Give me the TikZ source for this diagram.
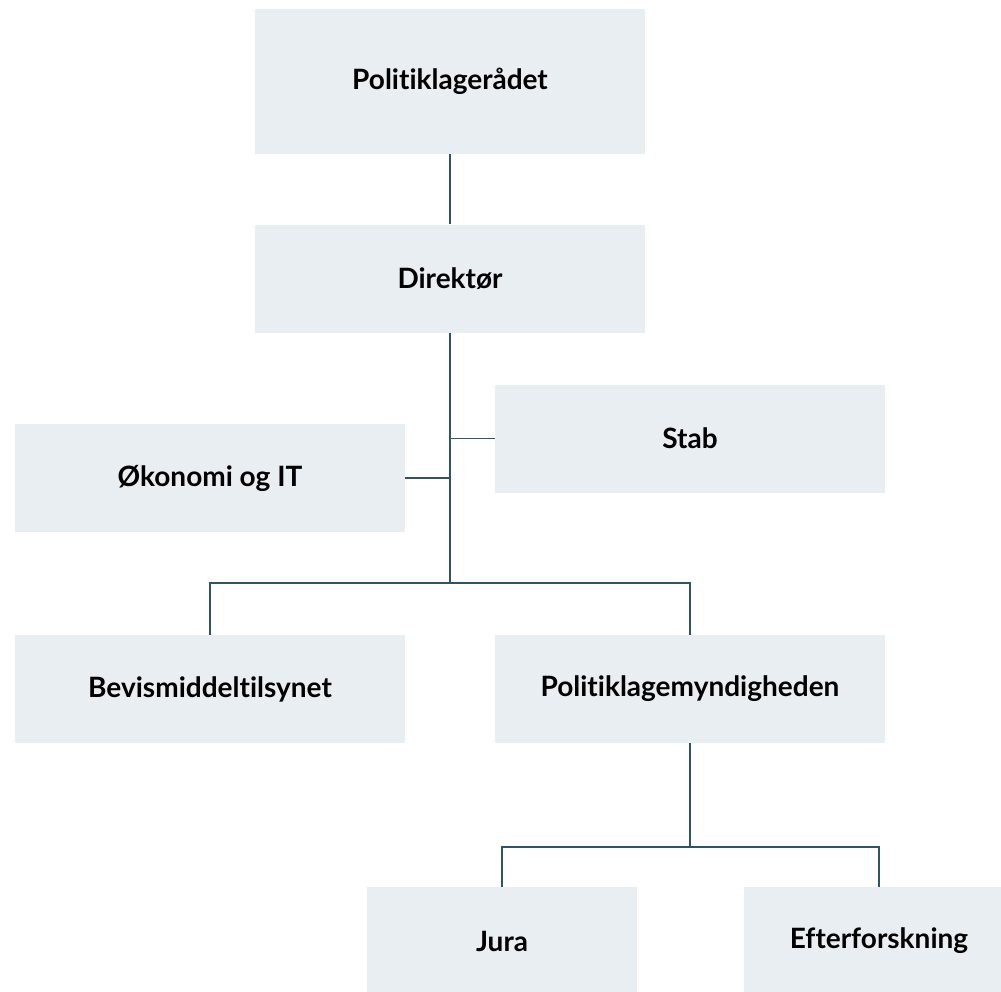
\documentclass[tikz,border=0pt]{standalone}
\usepackage{fontspec}
\setmainfont{Lato}[Ligatures=NoCommon]
\usetikzlibrary{positioning}

\definecolor{boxfill}{HTML}{E8EEF1}
\definecolor{linecol}{HTML}{2F5468}

\tikzset{
  unit/.style={fill=boxfill, minimum width=390pt, minimum height=108pt,
    inner sep=0pt, font=\fontsize{28}{32}\selectfont\bfseries},
  small unit/.style={unit, minimum width=270pt},
  link/.style={draw=linecol, line width=1.3pt}
}

\begin{document}
\begin{tikzpicture}[x=1pt,y=1pt,node distance=2cm,on grid]
            \path[use as bounding box,clip] (0,0) rectangle (1001,-991);
            \node[unit,minimum height=145pt] (raad) at (450,-81.5) {Politiklagerådet};
            \node[unit] (dir) [below=197pt of raad] {Direktør};
            \node[unit] (stab) [below right=160pt and 240pt of dir] {Stab};
            \node[unit] (oek) [below left=199.5pt and 240pt of dir] {Økonomi og IT};
            \node[unit] (bev) [below left=410.5pt and 240pt of dir] {Bevismiddeltilsynet};
            \node[unit] (pkm) [below right=410.5pt and 240pt of dir] {Politiklagemyndigheden};
            \node[small unit] (jura) [below left=252pt and 188pt of pkm] {Jura};
            \node[small unit] (eft) [below right=252pt and 189pt of pkm] {Efterforskning};
            \coordinate (split) at (dir |- 0,-583);
            \coordinate (split2) at (pkm |- 0,-847);
            \path[link]
            (raad) edge (dir)
            (dir) edge (split)
            (oek) edge (oek -| dir)
            (stab) edge (stab -| dir)
            (pkm) edge (split2);
            \draw[link] (bev) |- (split) -| (pkm);
            \draw[link] (jura) |- (split2) -| (eft);
        \end{tikzpicture}
\end{document}
